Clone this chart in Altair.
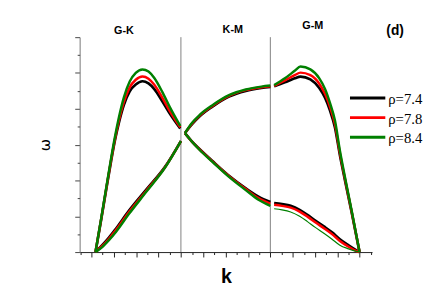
import altair as alt
import pandas as pd

# ---------------- data ----------------
rho_labels = ["ρ=7.4", "ρ=7.8", "ρ=8.4"]
line_colors = ["#000000", "#ff0000", "#008000"]

# G-K, upper branch
k_gk_up = [0.18, 0.44, 0.66, 0.88, 1.05, 1.23, 1.45, 1.71, 1.98, 2.28, 2.55, 2.81, 3.16, 3.51, 3.97]
w_gk_up_74 = [0, 0.93, 1.75, 2.55, 3.12, 3.62, 4.11, 4.49, 4.68, 4.77, 4.71, 4.55, 4.22, 3.86, 3.45]
w_gk_up_78 = [0, 0.94, 1.77, 2.58, 3.16, 3.68, 4.19, 4.60, 4.81, 4.90, 4.84, 4.67, 4.32, 3.93, 3.48]
w_gk_up_84 = [0, 0.96, 1.80, 2.63, 3.22, 3.77, 4.32, 4.76, 5.00, 5.10, 5.04, 4.86, 4.48, 4.04, 3.52]

# G-K, lower branch
k_gk_lo = [0.18, 0.48, 0.79, 1.10, 1.67, 2.46, 3.29, 4.00]
w_gk_lo_74 = [0, 0.19, 0.41, 0.66, 1.15, 1.75, 2.38, 3.10]
w_gk_lo_78 = [0, 0.17, 0.38, 0.62, 1.11, 1.72, 2.37, 3.10]
w_gk_lo_84 = [0, 0.14, 0.34, 0.57, 1.06, 1.69, 2.36, 3.10]

# K-M, upper branch
k_km_up = [4.18, 4.50, 4.84, 5.41, 6.15, 6.90, 7.60, 8.00]
w_km_up_74 = [3.32, 3.57, 3.79, 4.06, 4.34, 4.50, 4.58, 4.61]
w_km_up_78 = [3.32, 3.59, 3.81, 4.08, 4.36, 4.52, 4.60, 4.63]
w_km_up_84 = [3.32, 3.61, 3.83, 4.10, 4.38, 4.54, 4.62, 4.65]

# K-M, lower branch
k_km_lo = [4.18, 4.50, 4.84, 5.41, 6.15, 6.90, 7.47, 8.00]
w_km_lo_74 = [3.32, 3.08, 2.87, 2.54, 2.13, 1.78, 1.55, 1.40]
w_km_lo_78 = [3.32, 3.08, 2.86, 2.53, 2.12, 1.76, 1.51, 1.35]
w_km_lo_84 = [3.32, 3.08, 2.85, 2.52, 2.10, 1.73, 1.46, 1.29]

# M-G, upper branch
k_mg_up = [8.17, 8.65, 9.09, 9.35, 9.79, 10.19, 10.45, 10.67, 10.89, 11.11, 11.33, 11.64, 11.99]
w_mg_up_74 = [4.63, 4.74, 4.85, 4.90, 4.82, 4.58, 4.30, 3.95, 3.48, 2.71, 2.03, 1.10, 0]
w_mg_up_78 = [4.64, 4.79, 4.94, 5.01, 4.94, 4.70, 4.41, 4.05, 3.57, 2.77, 2.07, 1.12, 0]
w_mg_up_84 = [4.66, 4.85, 5.06, 5.18, 5.10, 4.85, 4.55, 4.16, 3.67, 2.84, 2.12, 1.15, 0]

# M-G, lower branch
k_mg_lo = [8.17, 8.52, 8.91, 9.31, 9.66, 10.01, 10.41, 10.76, 11.11, 11.50, 11.85, 11.99]
w_mg_lo_74 = [1.37, 1.34, 1.29, 1.18, 1.04, 0.88, 0.71, 0.55, 0.36, 0.19, 0.05, 0]
w_mg_lo_78 = [1.32, 1.29, 1.24, 1.13, 0.99, 0.83, 0.66, 0.50, 0.31, 0.15, 0.03, 0]
w_mg_lo_84 = [1.21, 1.18, 1.12, 1.00, 0.85, 0.69, 0.52, 0.36, 0.19, 0.09, 0.02, 0]

# high-symmetry boundaries and section labels
boundaries = [4, 8]
section_names = ["G-K", "K-M", "G-M"]
section_k = [1.45, 6.32, 9.90]
section_w = [6.16, 6.20, 6.30]
panel_tag = ["(d)"]

# ---------------- build table ----------------
segments = [
    ("gk_up", k_gk_up, [w_gk_up_74, w_gk_up_78, w_gk_up_84]),
    ("gk_lo", k_gk_lo, [w_gk_lo_74, w_gk_lo_78, w_gk_lo_84]),
    ("km_up", k_km_up, [w_km_up_74, w_km_up_78, w_km_up_84]),
    ("km_lo", k_km_lo, [w_km_lo_74, w_km_lo_78, w_km_lo_84]),
    ("mg_up", k_mg_up, [w_mg_up_74, w_mg_up_78, w_mg_up_84]),
    ("mg_lo", k_mg_lo, [w_mg_lo_74, w_mg_lo_78, w_mg_lo_84]),
]
rows = []
for seg, ks, ws in segments:
    for rho, wl in zip(rho_labels, ws):
        for i, (k, w) in enumerate(zip(ks, wl)):
            rows.append({"seg": seg, "rho": rho, "k": k, "w": w, "i": i})
df = pd.DataFrame(rows)
legend_df = pd.DataFrame({"rho": rho_labels})

x_scale = alt.Scale(domain=[-0.53, 12.55], nice=False, zero=False)
y_scale = alt.Scale(domain=[0, 6], nice=False, zero=False)
color_scale = alt.Scale(domain=rho_labels, range=line_colors)

major_x = alt.Axis(values=list(range(0, 13)), tickSize=5, labels=False, grid=False,
                   domainColor="#222222", tickColor="#222222", orient="bottom",
                   title="k", titleFontSize=20, titleFontWeight="bold",
                   titleFont="Liberation Sans", titleColor="#000000", titlePadding=10)
minor_x = alt.Axis(values=[i + 0.5 for i in range(-1, 13)], tickSize=2.5, labels=False,
                   grid=False, domain=False, tickColor="#222222", orient="bottom", title=None)
major_y = alt.Axis(values=list(range(0, 7)), tickSize=5, labels=False, grid=False,
                   domainColor="#777777", tickColor="#444444", orient="left",
                   title="ω", titleFontSize=15, titleFontWeight="normal",
                   titleFont="DejaVu Sans", titleColor="#000000", titlePadding=22)
minor_y = alt.Axis(values=[i + 0.5 for i in range(0, 6)], tickSize=2.5, labels=False,
                   grid=False, domain=False, tickColor="#444444", orient="left", title=None)

color = alt.Color("rho:N", scale=color_scale, legend=None)

rules = alt.Chart(pd.DataFrame({"k": boundaries})).mark_rule(
    color="#808080", strokeWidth=1
).encode(x=alt.X("k:Q", scale=x_scale, axis=major_x))


def branch(data_filter, width, with_axis):
    return alt.Chart(df).transform_filter(data_filter).mark_line(
        strokeWidth=width, interpolate="monotone", strokeJoin="round"
    ).encode(
        x=alt.X("k:Q", scale=x_scale, axis=None),
        y=alt.Y("w:Q", scale=y_scale, axis=major_y if with_axis else None),
        color=color,
        detail="seg:N",
        order="i:Q",
    )


lines = [
    branch(alt.datum.rho == rho_labels[0], 2.7, True),
    branch(alt.datum.rho == rho_labels[1], 2.5, False),
    branch((alt.datum.rho == rho_labels[2]) & (alt.datum.seg != "mg_lo"), 2.5, False),
    branch((alt.datum.rho == rho_labels[2]) & (alt.datum.seg == "mg_lo"), 1.2, False),
]

# legend (drawn as marks so that row spacing matches)
legend_layers = []
for n, rho in enumerate(rho_labels):
    row_y = 62 + 20 * n
    sub = alt.Chart(legend_df).transform_filter(alt.datum.rho == rho)
    legend_layers.append(
        sub.mark_rule(strokeWidth=3).encode(
            x=alt.value(275.5), x2=alt.value(311.5), y=alt.value(row_y), color=color
        )
    )
    legend_layers.append(
        sub.mark_text(align="left", baseline="middle", font="Liberation Serif",
                      fontSize=15, color="#000000").encode(
            x=alt.value(314.5), y=alt.value(row_y + 1), text="rho:N"
        )
    )

sections = alt.Chart(pd.DataFrame({"name": section_names, "k": section_k, "w": section_w})).mark_text(
    font="Liberation Sans", fontWeight="bold", fontSize=11, color="#000000", baseline="middle"
).encode(
    x=alt.X("k:Q", scale=x_scale, axis=minor_x),
    y=alt.Y("w:Q", scale=y_scale, axis=minor_y),
    text="name:N",
)

tag = alt.Chart(pd.DataFrame({"t": panel_tag})).mark_text(
    font="Liberation Sans", fontWeight="bold", fontSize=14, color="#000000", baseline="middle"
).encode(x=alt.value(321.5), y=alt.value(-6.7), text="t:N")

chart = alt.layer(rules, *lines, sections, tag, *legend_layers).resolve_axis(
    x="independent", y="independent"
).properties(
    width=298, height=219,
    padding={"left": 73, "top": 27, "right": 57, "bottom": 40},
    autosize=alt.AutoSizeParams(type="none"),
).configure_view(stroke=None)

chart.save("out.html", embed_options={"renderer": "svg", "actions": False})
